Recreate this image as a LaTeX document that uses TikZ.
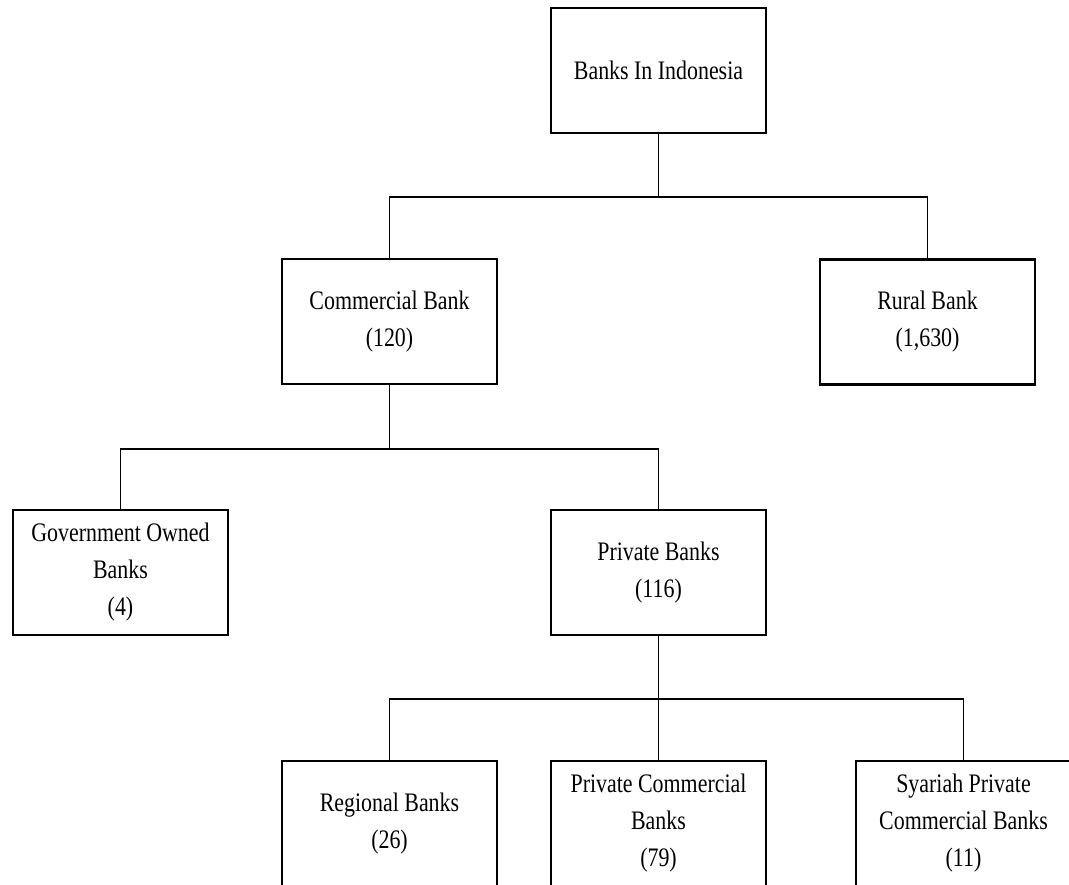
\documentclass[tikz,border=0pt]{standalone}
\usepackage{fontspec}
\setmainfont{Liberation Serif}[FakeStretch=0.82]
\begin{document}
\begin{tikzpicture}[x=0.025cm, y=-0.025cm, line width=1.3pt,
    bank/.style={draw, line width=1.5pt, fill=white, align=center, inner sep=0pt,
        minimum width=5.375cm, minimum height=3.125cm,
        font=\fontsize{19}{26.3}\selectfont}]

    \clip (0, 0) rectangle (1069, 884); % picture frame

    % Boxes
    \node[bank] (top) at (658.5, 70.5) {Banks In Indonesia};
    \node[bank] (comm) at (389.5, 321.5) {Commercial Bank\\(120)};
    \node[bank] (rural) at (927.5, 322) {Rural Bank\\(1,630)};
    \node[bank] (gov) at (120.5, 572.5) {Government Owned\\Banks\\(4)};
    \node[bank] (priv) at (658.5, 572.5) {Private Banks\\(116)};
    \node[bank] (reg) at (389.5, 823.5) {Regional Banks\\(26)};
    \node[bank] (privcom) at (658.5, 823.5) {Private Commercial\\Banks\\(79)};
    \node[bank] (syar) at (963.5, 823.5) {Syariah Private\\Commercial Banks\\(11)};

    % Connectors
    \draw (top.south) -- ++(0, 63) -| (comm.north);
    \draw (top.south) -- ++(0, 63) -| (rural.north);
    \draw (comm.south) -- ++(0, 63.5) -| (gov.north);
    \draw (comm.south) -- ++(0, 63.5) -| (priv.north);
    \draw (priv.south) -- ++(0, 63) -| (reg.north);
    \draw (priv.south) -- ++(0, 63) -| (privcom.north);
    \draw (priv.south) -- ++(0, 63) -| (syar.north);

\end{tikzpicture}
\end{document}
